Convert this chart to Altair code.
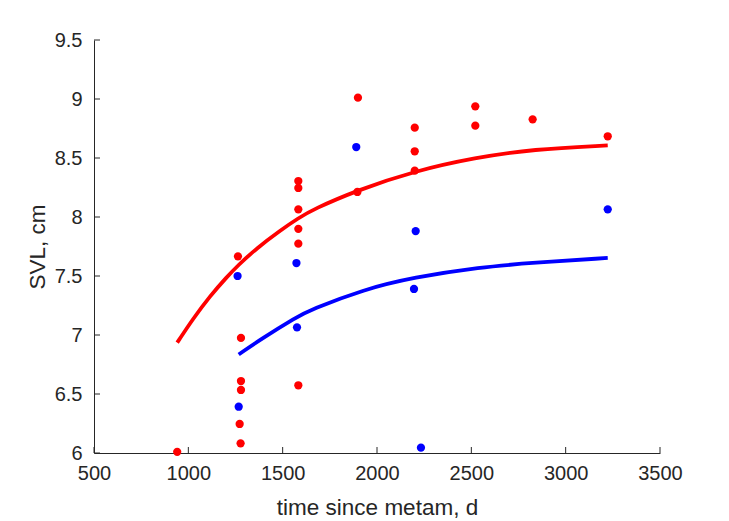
import altair as alt
import pandas as pd

# Observed data (time since metamorphosis, d ; SVL, cm)
red_t = [941, 1263, 1279, 1279, 1279, 1272, 1277, 1583, 1583, 1583, 1583, 1583, 1583,
         1899, 1896, 2200, 2200, 2200, 2521, 2521, 2825, 3223]
red_svl = [6.01, 7.667, 6.975, 6.61, 6.534, 6.246, 6.082, 8.305, 8.246, 8.065, 7.90, 7.774, 6.574,
           9.011, 8.212, 8.757, 8.557, 8.393, 8.938, 8.774, 8.828, 8.684]
blue_t = [1261, 1267, 1573, 1576, 1890, 2205, 2196, 2233, 3223]
blue_svl = [7.50, 6.392, 7.61, 7.065, 8.593, 7.881, 7.39, 6.045, 8.065]

# Fitted curves
red_fit_t = [941, 1026, 1115, 1203, 1263, 1362, 1486, 1583, 1662, 1892, 2200, 2521, 2825, 3223]
red_fit_svl = [6.935, 7.14, 7.33, 7.49, 7.59, 7.735, 7.885, 7.99, 8.065, 8.225, 8.39, 8.503, 8.574, 8.607]
blue_fit_t = [1267, 1380, 1574, 1645, 1927, 2192, 2546, 2825, 3223]
blue_fit_svl = [6.835, 6.96, 7.152, 7.212, 7.385, 7.488, 7.575, 7.612, 7.653]

x_ticks = [500, 1000, 1500, 2000, 2500, 3000, 3500]
y_ticks = [6, 6.5, 7, 7.5, 8, 8.5, 9, 9.5]

W, H = 566, 413
TEXT = "#262626"
FONT = "Liberation Sans"

pts = pd.DataFrame({
    "t": red_t + blue_t,
    "svl": red_svl + blue_svl,
    "group": ["red"] * len(red_t) + ["blue"] * len(blue_t),
})
fits = pd.DataFrame({
    "t": red_fit_t + blue_fit_t,
    "svl": red_fit_svl + blue_fit_svl,
    "group": ["red"] * len(red_fit_t) + ["blue"] * len(blue_fit_t),
})
xt = pd.DataFrame({"t": x_ticks})
yt = pd.DataFrame({"svl": y_ticks})

xs = alt.Scale(domain=[500, 3500], nice=False, zero=False)
ys = alt.Scale(domain=[6, 9.5], nice=False, zero=False)
cs = alt.Scale(domain=["red", "blue"], range=["#ff0000", "#0000ff"])

x_axis = alt.Axis(values=x_ticks, ticks=False, grid=False, format="d",
                  domainColor=TEXT, domainWidth=1,
                  labelColor=TEXT, labelFont=FONT, labelFontSize=20, labelPadding=10,
                  labelFlush=False, labelOverlap=False,
                  title="time since metam, d", titleFont=FONT, titleFontSize=22.5,
                  titleColor=TEXT, titleFontWeight="normal",
                  titleX=W / 2, titleY=54, titleBaseline="middle", titleAlign="center")
y_axis = alt.Axis(values=y_ticks, ticks=False, grid=False, format="~g",
                  domainColor=TEXT, domainWidth=1,
                  labelColor=TEXT, labelFont=FONT, labelFontSize=20, labelPadding=12,
                  labelFlush=False, labelOverlap=False,
                  title="SVL, cm", titleFont=FONT, titleFontSize=22.5,
                  titleColor=TEXT, titleFontWeight="normal", titleAngle=-90,
                  titleX=-57, titleY=H / 2, titleBaseline="middle", titleAlign="center")

points = alt.Chart(pts).mark_circle(size=68, opacity=1).encode(
    x=alt.X("t:Q", scale=xs, axis=x_axis),
    y=alt.Y("svl:Q", scale=ys, axis=y_axis),
    color=alt.Color("group:N", scale=cs, legend=None),
)

lines = alt.Chart(fits).mark_line(strokeWidth=3.8, interpolate="basis").encode(
    x=alt.X("t:Q", scale=xs, axis=x_axis),
    y=alt.Y("svl:Q", scale=ys, axis=y_axis),
    color=alt.Color("group:N", scale=cs, legend=None),
    detail="group:N",
)

xticks = alt.Chart(xt).mark_rule(color=TEXT, strokeWidth=1).encode(
    x=alt.X("t:Q", scale=xs, axis=x_axis),
    y=alt.value(H),
    y2=alt.value(H - 6),
)
yticks = alt.Chart(yt).mark_rule(color=TEXT, strokeWidth=1).encode(
    y=alt.Y("svl:Q", scale=ys, axis=y_axis),
    x=alt.value(0),
    x2=alt.value(6),
)

chart = alt.layer(points, lines, xticks, yticks).properties(
    width=W, height=H,
    background="white",
    autosize=alt.AutoSizeParams(type="none"),
    padding={"left": 94, "top": 40, "right": 69, "bottom": 68},
).configure_view(stroke=None)

chart.save("out.html", embed_options={"renderer": "svg", "actions": False})
